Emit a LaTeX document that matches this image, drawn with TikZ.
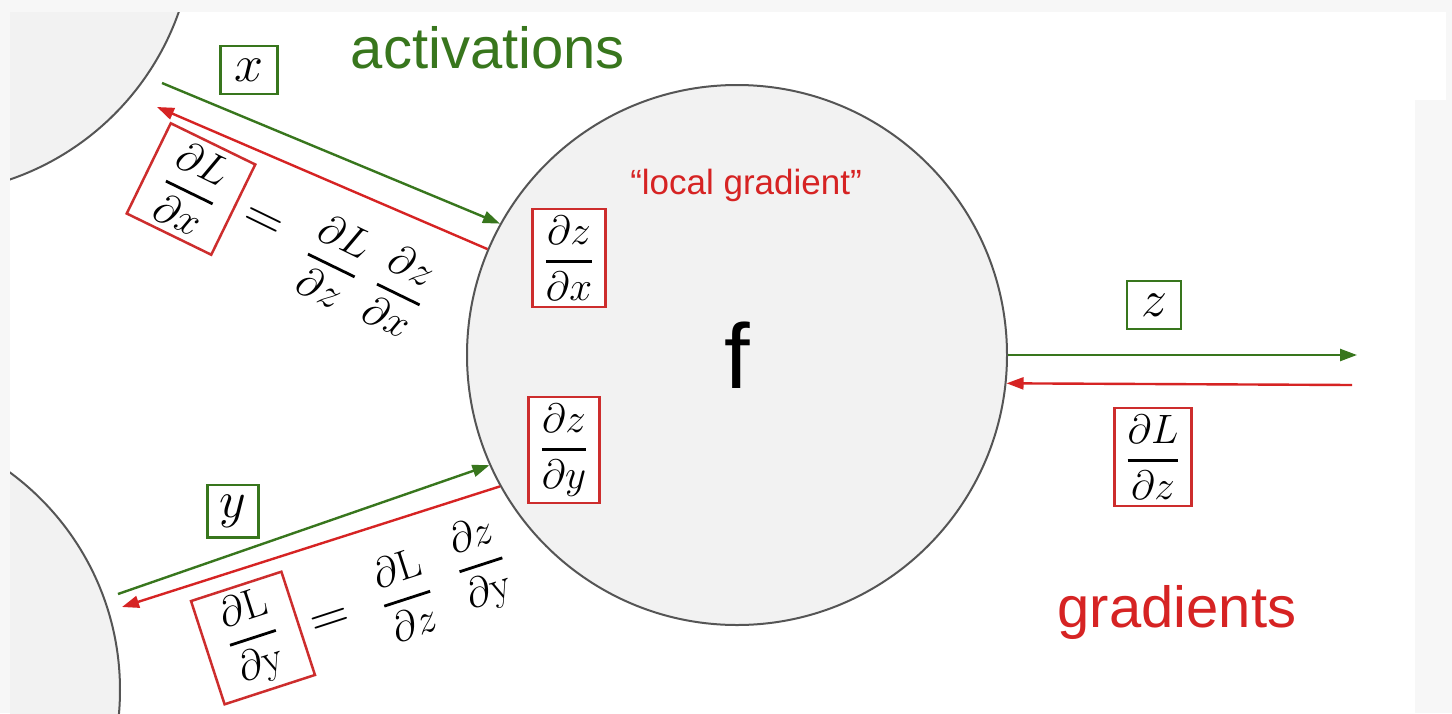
\RequirePackage{fix-cm}
\documentclass[tikz,border=0pt]{standalone}
\usepackage{amsmath}
\usepackage[no-math]{fontspec}
\setmainfont{Liberation Sans}
\usetikzlibrary{arrows.meta}
\definecolor{ggreen}{RGB}{56,118,29}
\definecolor{rred}{RGB}{214,35,35}
\definecolor{bred}{RGB}{205,45,45}
\definecolor{cfill}{RGB}{242,242,242}
\definecolor{cline}{RGB}{85,85,85}
\definecolor{outerbg}{RGB}{247,247,247}
\newcommand\sz[1]{\fontsize{#1}{#1}\selectfont}
\newcommand\fr[2]{\genfrac{}{}{2.8pt}{0}{#1}{#2}}
\tikzset{
  neuron/.style={circle, draw=cline, fill=cfill, line width=2pt, inner sep=0pt},
  garrow/.style={draw=ggreen, line width=2.4pt, -{Triangle[length=17pt,width=12pt]}},
  rarrow/.style={draw=rred, line width=2.4pt, -{Triangle[length=17pt,width=12pt]}},
  varbox/.style={draw=ggreen, line width=2.5pt, fill=white, inner xsep=14pt, inner ysep=13pt, font=\sz{52}},
  gradbox/.style={draw=bred, line width=2.5pt, fill=white, inner xsep=12pt, inner ysep=7pt, font=\sz{41}},
  eqpart/.style={inner sep=0pt, font=\sz{42}},
  eqsign/.style={inner sep=0pt, font=\sz{54}},
  bigtext/.style={font=\sz{58}, anchor=base},
}
\begin{document}
\begin{tikzpicture}[x=1pt,y=-1pt]
\useasboundingbox (0,0) rectangle (1452,713);
\fill[outerbg] (0,0) rectangle (1452,713);
\fill[white] (10,12) rectangle (1415,713);
\fill[white] (1415,12) rectangle (1446,100);
% neighbouring neurons
\begin{scope}
  \clip (10,12) rectangle (1415,713);
  \node[neuron, minimum size=544pt] (n1) at (-78,-78) {};
  \node[neuron, minimum size=540pt] (n2) at (-150,690) {};
\end{scope}
% main neuron
\node[neuron, minimum size=540pt, font=\sz{92}] (f) at (737,355) {f};
% free ends
\coordinate (xa) at (162,83);
\coordinate (xb) at (157,107);
\coordinate (ya) at (118,594);
\coordinate (yb) at (122,607);
\coordinate (za) at (1357,355);
\coordinate (zb) at (1352,385);
% connectors
\draw[garrow] (xa) -- (f.151.6);
\draw[rarrow] (f.157) -- (xb);
\draw[garrow] (ya) -- (f.204.7);
\draw[rarrow] (f.209.4) -- (yb);
\draw[garrow] (f.0) -- (za);
\draw[rarrow] (zb) -- (f.-6.4);
% labels
\node[bigtext, text=ggreen] (act) at (488,68) {activations};
\node[bigtext, text=rred] (grad) at (1177,627) {gradients};
\node[font=\sz{35}, text=rred, anchor=base] (loc) at (746,194) {“local gradient”};
% variable boxes
\node[varbox] (bx) at (249,70) {$x$};
\node[varbox, inner ysep=10pt, inner xsep=12pt] (by) at (233,511) {$y$};
\node[varbox] (bz) at (1154,305) {$z$};
% local gradients
\node[gradbox] (dzdx) at (569,258) {$\fr{\partial z}{\partial x}$};
\node[gradbox] (dzdy) at (564,450) {$\fr{\partial z}{\partial y}$};
\node[gradbox] (dLdz) at (1153,457) {$\fr{\partial L}{\partial z}$};
% chain rule, top
\node[gradbox, font=\sz{42}, rotate=-26, minimum width=94pt, minimum height=97pt] (dLdx) at (191,189) {$\fr{\partial L}{\partial x}$};
\node[eqsign, rotate=-26] (eqx) at (262,223) {$=$};
\node[eqpart, rotate=-26] (t1x) at (333,262) {$\fr{\partial L}{\partial z}$};
\node[eqpart, rotate=-26] (t2x) at (400,291) {$\fr{\partial z}{\partial x}$};
% chain rule, bottom
\node[gradbox, font=\sz{42}, rotate=18, minimum width=95pt, minimum height=95pt] (dLdy) at (253,638) {$\fr{\partial \mathrm{L}}{\partial \mathrm{y}}$};
\node[eqsign, rotate=18] (eqy) at (331,622) {$=$};
\node[eqpart, rotate=18] (t1y) at (406,595) {$\fr{\partial \mathrm{L}}{\partial z}$};
\node[eqpart, rotate=18] (t2y) at (481,565) {$\fr{\partial z}{\partial \mathrm{y}}$};
\end{tikzpicture}
\end{document}
